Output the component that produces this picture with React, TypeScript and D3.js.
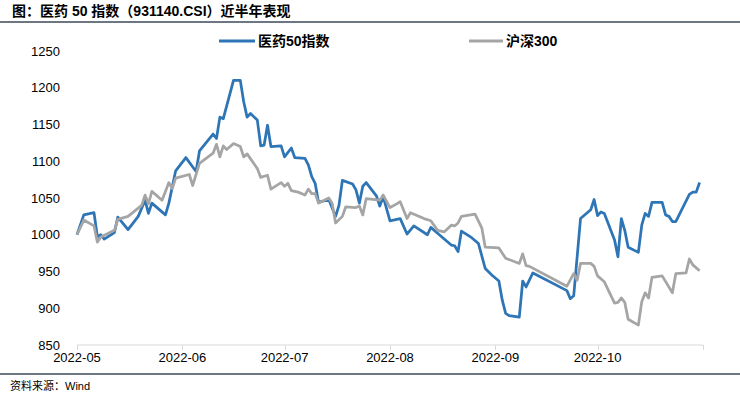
import React from "react";
import * as d3 from "d3";

const title = "图：医药 50 指数（931140.CSI）近半年表现";
const source = "资料来源：Wind";
const seriesNames = ["医药50指数", "沪深300"];
const yTicks = [850, 900, 950, 1000, 1050, 1100, 1150, 1200, 1250];
const monthTicks = ["2022-05-01", "2022-06-01", "2022-07-01", "2022-08-01", "2022-09-01", "2022-10-01", "2022-11-01"];

const pharmaDates = [
  "05-01", "05-03", "05-06", "05-07", "05-08", "05-09", "05-12", "05-13", "05-16", "05-19",
  "05-21", "05-22", "05-23", "05-27", "05-28", "05-30", "06-02", "06-05", "06-06", "06-10",
  "06-11", "06-12", "06-13", "06-16", "06-18", "06-19", "06-20", "06-21", "06-23", "06-24",
  "06-25", "06-26", "06-27", "06-30", "07-01", "07-03", "07-04", "07-07", "07-08", "07-09",
  "07-10", "07-11", "07-14", "07-16", "07-17", "07-18", "07-21", "07-22", "07-23", "07-24",
  "07-25", "07-28", "07-29", "07-30", "08-01", "08-04", "08-06", "08-08", "08-12", "08-13",
  "08-16", "08-19", "08-20", "08-21", "08-22", "08-25", "08-27", "08-29", "08-31", "09-02",
  "09-03", "09-04", "09-05", "09-08", "09-09", "09-10", "09-12", "09-22", "09-23", "09-24",
  "09-26", "09-29", "09-30", "10-01", "10-02", "10-03", "10-06", "10-07", "10-08", "10-09",
  "10-10", "10-13", "10-14", "10-15", "10-16", "10-17", "10-20", "10-21", "10-22", "10-23",
  "10-24", "10-28", "10-29", "10-30", "10-31",
];
const pharmaValues = [
  1000, 1027, 1030, 997, 1000, 994, 1003, 1024, 1007, 1025,
  1047, 1029, 1043, 1027, 1043, 1087, 1105, 1086, 1114, 1137,
  1131, 1160, 1158, 1210, 1210, 1181, 1160, 1165, 1156, 1121,
  1122, 1149, 1120, 1121, 1106, 1118, 1105, 1104, 1095, 1079,
  1070, 1044, 1048, 1025, 1040, 1074, 1069, 1061, 1043, 1066,
  1071, 1053, 1039, 1052, 1019, 1022, 1001, 1012, 1000, 1010,
  998, 986, 985, 977, 1005, 996, 988, 954, 945, 937,
  911, 893, 890, 888, 937, 929, 948, 924, 913, 917,
  1022, 1034, 1048, 1026, 1031, 1029, 993, 970, 1022, 1006,
  983, 976, 1013, 1029, 1025, 1044, 1044, 1027, 1025, 1018,
  1018, 1055, 1058, 1058, 1071,
];

const csiDates = [
  "05-01", "05-03", "05-06", "05-07", "05-08", "05-12", "05-13", "05-16", "05-20", "05-21",
  "05-22", "05-23", "05-26", "05-28", "05-29", "05-30", "06-03", "06-04", "06-06", "06-10",
  "06-11", "06-12", "06-13", "06-14", "06-16", "06-18", "06-19", "06-20", "06-23", "06-24",
  "06-26", "06-27", "06-30", "07-01", "07-02", "07-03", "07-05", "07-07", "07-08", "07-09",
  "07-10", "07-11", "07-14", "07-15", "07-16", "07-18", "07-19", "07-22", "07-23", "07-24",
  "07-25", "07-29", "07-30", "08-01", "08-03", "08-04", "08-06", "08-07", "08-11", "08-13",
  "08-15", "08-17", "08-19", "08-20", "08-21", "08-22", "08-26", "08-28", "08-29", "09-02",
  "09-04", "09-08", "09-09", "09-10", "09-11", "09-22", "09-24", "09-25", "09-26", "09-29",
  "09-30", "10-01", "10-03", "10-06", "10-07", "10-08", "10-09", "10-10", "10-13", "10-14",
  "10-15", "10-16", "10-17", "10-20", "10-23", "10-24", "10-27", "10-28", "10-29", "10-31",
];
const csiValues = [
  1000, 1020, 1012, 990, 997, 1006, 1021, 1025, 1040, 1054,
  1042, 1059, 1047, 1071, 1063, 1077, 1082, 1067, 1097, 1111,
  1123, 1106, 1121, 1116, 1124, 1120, 1106, 1110, 1090, 1078,
  1081, 1062, 1071, 1066, 1070, 1060, 1058, 1054, 1062, 1056,
  1056, 1043, 1050, 1043, 1016, 1025, 1038, 1037, 1039, 1027,
  1049, 1047, 1054, 1037, 1042, 1045, 1022, 1030, 1022, 1019,
  1006, 1004, 1013, 1012, 1016, 1025, 1028, 1009, 983, 982,
  968, 961, 974, 958, 957, 930, 947, 938, 961, 961,
  957, 944, 936, 907, 908, 914, 908, 885, 877, 909,
  921, 914, 942, 944, 921, 947, 948, 967, 959, 951,
];

const FONT = "'Liberation Sans', Arial, 'Noto Sans CJK SC', sans-serif";
const BLUE = "#2E75B6";
const GRAY = "#A5A5A5";

export default function App() {
  const W = 740;
  const H = 394;
  const parse = d3.timeParse("%Y-%m-%d");
  const x = d3
    .scaleTime()
    .domain([parse("2022-05-01") as Date, parse("2022-11-01") as Date])
    .range([77, 703]);
  const y = d3.scaleLinear().domain([850, 1250]).range([345, 51]);

  const toPts = (ds: string[], vs: number[]) =>
    ds.map((d, i) => ({ date: parse("2022-" + d) as Date, v: vs[i] }));
  const line = d3
    .line<{ date: Date; v: number }>()
    .x((d) => x(d.date))
    .y((d) => y(d.v));

  const pharma = toPts(pharmaDates, pharmaValues);
  const csi = toPts(csiDates, csiValues);
  const fmt = d3.timeFormat("%Y-%m");

  return (
    <svg width={W} height={H} style={{ position: "absolute", left: 0, top: 0, background: "#fff" }} fontFamily={FONT}>
      <rect width={W} height={H} fill="#fff" />
      <text x={12} y={16} fontSize={14} fontWeight="bold" fill="#000">
        {title}
      </text>
      <line x1={0} x2={W} y1={22} y2={22} stroke="#3B4A5A" strokeWidth={1.5} />

      {/* legend */}
      <line x1={219} x2={255} y1={41} y2={41} stroke={BLUE} strokeWidth={3} />
      <text x={258} y={46} fontSize={14} fontWeight="bold" fill="#000">
        {seriesNames[0]}
      </text>
      <line x1={469} x2={503} y1={41} y2={41} stroke={GRAY} strokeWidth={3} />
      <text x={506} y={46} fontSize={14} fontWeight="bold" fill="#000">
        {seriesNames[1]}
      </text>

      {/* y axis labels */}
      {yTicks.map((t) => (
        <text key={t} x={60} y={y(t) + 4.5} fontSize={13} textAnchor="end" fill="#000">
          {t}
        </text>
      ))}

      {/* x axis */}
      <line x1={x.range()[0]} x2={x.range()[1]} y1={345} y2={345} stroke="#D9D9D9" strokeWidth={1} />
      {monthTicks.map((m, i) => {
        const d = parse(m) as Date;
        const px = Math.round(x(d)) + 0.5;
        return (
          <g key={m}>
            <line x1={px} x2={px} y1={345} y2={350} stroke="#D9D9D9" strokeWidth={1} />
            {i < monthTicks.length - 1 && (
              <text x={x(d)} y={362} fontSize={13} textAnchor="middle" fill="#000">
                {fmt(d)}
              </text>
            )}
          </g>
        );
      })}

      <path d={line(pharma) || ""} fill="none" stroke={BLUE} strokeWidth={2.75} strokeLinejoin="round" />
      <path d={line(csi) || ""} fill="none" stroke={GRAY} strokeWidth={2.75} strokeLinejoin="round" />

      <line x1={0} x2={W} y1={374} y2={374} stroke="#3B4A5A" strokeWidth={1.5} />
      <text x={10} y={390} fontSize={11} fill="#000">
        {source}
      </text>
    </svg>
  );
}
